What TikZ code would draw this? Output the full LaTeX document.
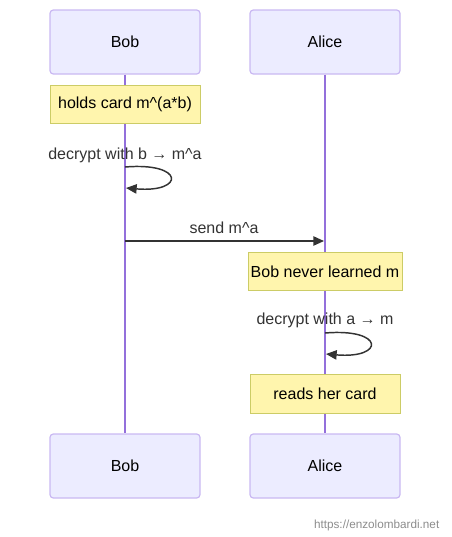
\documentclass[tikz,border=0pt]{standalone}
\usepackage{fontspec}
\setmainfont{Liberation Sans}
\usetikzlibrary{arrows.meta}
\definecolor{actorfill}{HTML}{ECECFF}
\definecolor{actorline}{HTML}{C9B8F2}
\definecolor{lifeline}{HTML}{9370DB}
\definecolor{notefill}{HTML}{FFF5AD}
\definecolor{noteline}{HTML}{CCCC66}
\definecolor{msgline}{HTML}{333333}
\tikzset{
  actor/.style={draw=actorline, fill=actorfill, line width=0.9pt, rounded corners=2.5pt,
    minimum width=112.5pt, minimum height=48pt, inner sep=0pt,
    font=\fontsize{12}{14}\selectfont},
  note/.style={draw=noteline, fill=notefill, line width=0.75pt,
    minimum height=29pt, inner sep=0pt, font=\fontsize{12}{14}\selectfont},
  msg/.style={text=msgline, font=\fontsize{12}{14}\selectfont},
  arr/.style={draw=msgline, line width=1.1pt, -{Triangle[length=8pt,width=7pt]}}
}
\begin{document}
\begin{tikzpicture}[x=0.75pt, y=-0.75pt]
	\useasboundingbox (0,0) rectangle (452,537);
	% actors, top and bottom
	\node[actor] (bobtop) at (125,42) {Bob};
	\node[actor] (alicetop) at (325,42) {Alice};
	\node[actor] (bobbot) at (125,466) {Bob};
	\node[actor] (alicebot) at (325,466) {Alice};
	% lifelines
	\draw[lifeline, line width=1.1pt] (bobtop.south) -- (bobbot.north);
	\draw[lifeline, line width=1.1pt] (alicetop.south) -- (alicebot.north);
	% notes
	\node[note, minimum width=112.5pt] (holds) at (125,104.5) {holds card m\^{}(a*b)};
	\node[note, minimum width=115.5pt] (never) at (325,271.5) {Bob never learned m};
	\node[note, minimum width=112.5pt] (reads) at (325,394) {reads her card};
	% Bob decrypts
	\node[msg] (decb) at (125,155) {decrypt with b \textrightarrow{} m\^{}a};
	\coordinate (bloopa) at (125,167);
	\coordinate (bloopb) at (126,188);
	\draw[arr] (bloopa) .. controls (185,162) and (185,193) .. (bloopb);
	% message
	\node[msg] (send) at (224,228) {send m\^{}a};
	\coordinate (sendfrom) at (125,241);
	\coordinate (sendto) at (324,241);
	\draw[arr] (sendfrom) -- (sendto);
	% Alice decrypts
	\node[msg] (deca) at (325,320) {decrypt with a \textrightarrow{} m};
	\coordinate (aloopa) at (325,333);
	\coordinate (aloopb) at (326,354);
	\draw[arr] (aloopa) .. controls (385,328) and (385,359) .. (aloopb);
	% watermark
	\node[text=gray!90, font=\fontsize{8.8}{10}\selectfont, anchor=east] (mark) at (444,525) {https://enzolombardi.net};
\end{tikzpicture}
\end{document}
